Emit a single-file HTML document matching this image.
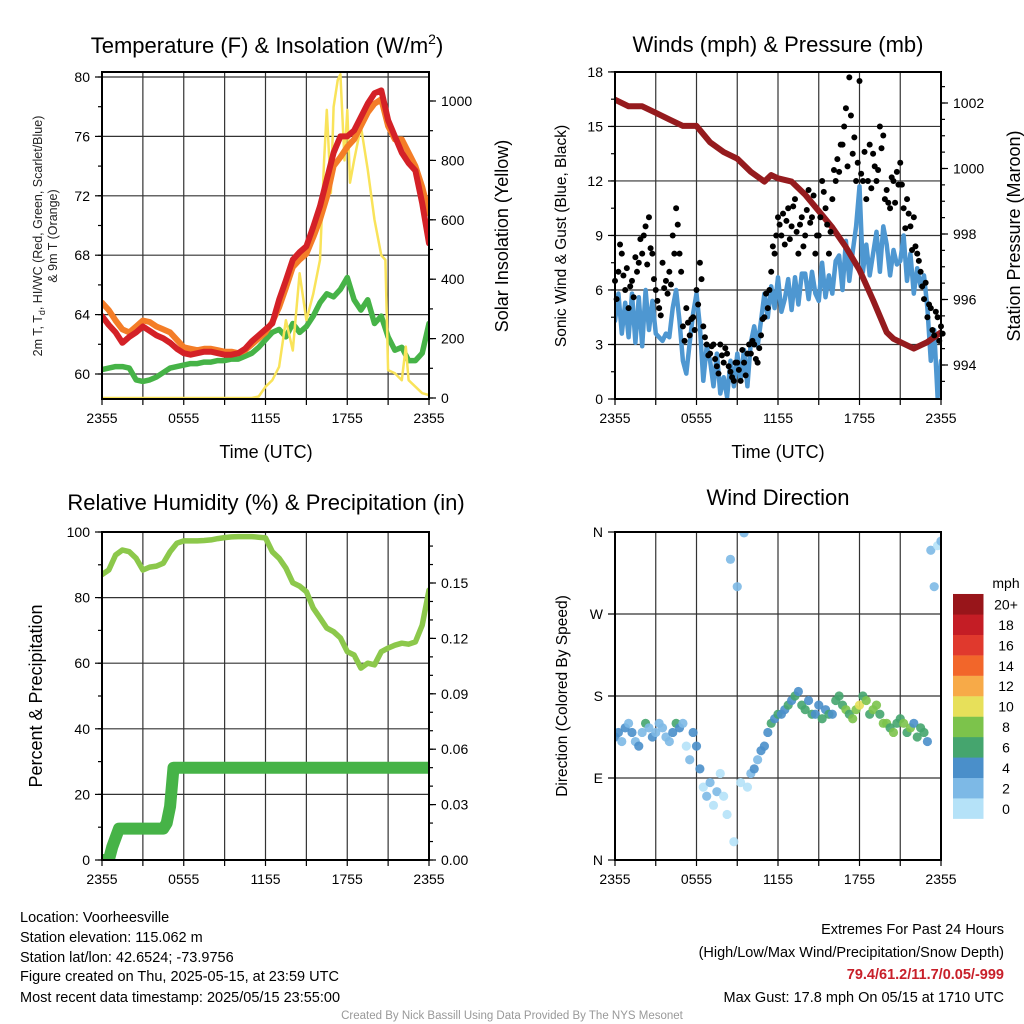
<!DOCTYPE html>
<html><head><meta charset="utf-8"><style>
html,body{margin:0;padding:0;background:#fff;}
svg{display:block;font-family:"Liberation Sans",Arial,sans-serif;}
</style></head><body>
<svg id="c" width="1024" height="1024" viewBox="0 0 1024 1024" xmlns="http://www.w3.org/2000/svg">
<defs>
<clipPath id="cp1"><rect x="102" y="72" width="327" height="327"/></clipPath>
<clipPath id="cp2"><rect x="615" y="72" width="326" height="327"/></clipPath>
<clipPath id="cp3"><rect x="102" y="532" width="327" height="328"/></clipPath>
<clipPath id="cp4"><rect x="615" y="532" width="326" height="328"/></clipPath>
</defs>
<g id="grids"></g>
<g id="series"></g>
<g id="axes"></g>
<text x="267" y="53" font-size="22" text-anchor="middle">Temperature (F) &amp; Insolation (W/m<tspan dy="-9" font-size="14">2</tspan><tspan dy="9">)</tspan></text>
<text x="778" y="52" font-size="22" text-anchor="middle">Winds (mph) &amp; Pressure (mb)</text>
<text x="266" y="510" font-size="22" text-anchor="middle">Relative Humidity (%) &amp; Precipitation (in)</text>
<text x="778" y="505" font-size="22" text-anchor="middle">Wind Direction</text>
<text x="266" y="458" font-size="18" text-anchor="middle">Time (UTC)</text>
<text x="778" y="458" font-size="18" text-anchor="middle">Time (UTC)</text>
<text transform="translate(42,236) rotate(-90)" font-size="12.5" text-anchor="middle" fill="#222">2m T, T<tspan dy="3" font-size="9">d</tspan><tspan dy="-3">, HI/WC (Red, Green, Scarlet/Blue)</tspan></text>
<text transform="translate(57,236) rotate(-90)" font-size="12.5" text-anchor="middle" fill="#222">&amp; 9m T (Orange)</text>
<text transform="translate(508,236) rotate(-90)" font-size="18" text-anchor="middle">Solar Insolation (Yellow)</text>
<text transform="translate(566,236) rotate(-90)" font-size="15.5" text-anchor="middle">Sonic Wind &amp; Gust (Blue, Black)</text>
<text transform="translate(1020,236) rotate(-90)" font-size="18" text-anchor="middle">Station Pressure (Maroon)</text>
<text transform="translate(42,696) rotate(-90)" font-size="18" text-anchor="middle">Percent &amp; Precipitation</text>
<text transform="translate(567,696) rotate(-90)" font-size="15.5" text-anchor="middle">Direction (Colored By Speed)</text>
<g font-size="14.5">
<text x="20" y="922">Location: Voorheesville</text>
<text x="20" y="942">Station elevation: 115.062 m</text>
<text x="20" y="962">Station lat/lon: 42.6524; -73.9756</text>
<text x="20" y="981">Figure created on Thu, 2025-05-15, at 23:59 UTC</text>
<text x="20" y="1002">Most recent data timestamp: 2025/05/15 23:55:00</text>
</g>
<g font-size="14.5" text-anchor="end">
<text x="1004" y="934">Extremes For Past 24 Hours</text>
<text x="1004" y="957">(High/Low/Max Wind/Precipitation/Snow Depth)</text>
<text x="1004" y="979" fill="#c8202a" font-weight="bold">79.4/61.2/11.7/0.05/-999</text>
<text x="1004" y="1002">Max Gust: 17.8 mph On 05/15 at 1710 UTC</text>
</g>
<text x="512" y="1019" font-size="11.5" text-anchor="middle" fill="#999">Created By Nick Bassill Using Data Provided By The NYS Mesonet</text>
<g id="cbar"></g>
</svg>
<script>
const tempRed = [63.9,63.3,62.8,62.1,62.5,62.8,63.2,62.9,62.6,62.4,62.1,61.7,61.4,61.3,61.4,61.5,61.5,61.4,61.3,61.3,61.4,61.7,62.2,62.6,63.0,63.4,65.0,66.3,67.7,68.2,68.6,69.9,71.3,73.1,74.9,76.0,76.0,76.4,77.3,78.2,78.9,79.1,77.1,76.0,74.9,74.2,73.7,71.5,68.8];
const temp9m = [64.8,64.3,63.6,63.0,62.8,63.2,63.6,63.5,63.2,63.0,62.8,62.3,61.8,61.7,61.6,61.7,61.7,61.6,61.5,61.5,61.4,61.6,62.0,62.4,62.8,63.5,64.5,65.8,67.2,67.7,68.1,69.2,70.4,71.9,74.0,74.6,75.3,75.8,76.7,77.6,78.2,78.5,76.7,75.8,75.8,74.9,74.0,72.6,70.8];
const dewGreen = [60.3,60.4,60.5,60.5,60.4,59.6,59.5,59.6,59.8,60.1,60.4,60.5,60.6,60.7,60.7,60.8,60.8,60.9,60.9,61.0,61.0,61.2,61.4,61.8,62.3,62.8,63.0,62.5,63.4,62.8,63.2,63.9,64.8,65.4,65.2,65.7,66.5,65.0,64.3,65.0,63.4,63.9,62.5,61.6,61.8,60.9,60.9,61.4,63.4];
const solarHours = [0,11,11.5,12,12.5,13,13.5,14,14.5,15,15.5,16,16.3,16.5,16.8,17,17.3,17.5,17.8,18,18.2,18.5,19,19.5,20,20.5,20.8,21,21.5,22,22.3,22.5,23,23.5,24];
const solarValues = [0,0,5,38,60,105,262,160,420,262,350,465,800,970,690,980,1070,1090,800,970,725,800,915,770,600,480,465,94,83,60,173,60,38,16,10];
const sonicWind = [4.3,5.8,3.6,5.3,3.4,5.8,3.1,5.6,2.9,6.0,3.8,5.4,3.6,3.4,3.2,3.6,3.4,5.0,6.0,4.3,2.1,1.4,3.1,4.7,5.8,4.0,1.0,2.9,2.1,0.7,2.5,0.3,1.2,0.1,2.1,0.7,2.5,1.0,2.7,0.7,3.1,4.0,2.9,4.3,5.8,4.5,6.2,5.0,6.7,4.8,5.5,6.6,4.9,6.7,5.2,6.9,6.9,5.5,7.0,5.8,5.4,7.5,5.6,6.8,5.8,7.6,7.9,6.0,8.7,6.5,8.1,9.5,11.7,7.0,8.5,6.8,8.0,9.2,7.0,9.5,8.5,6.8,8.2,7.4,7.6,9.0,6.5,8.0,5.8,7.2,6.2,6.8,5.0,2.1,3.8,0.1,2.1];
const gust = [6.5,7,8,6,5,6.5,7.8,7.5,8,9.5,10,8,6,5,7.5,6.5,7,9,10.5,8,4,5,3.5,4.5,6,7.5,4,3,2.5,3,1.8,3,2,2.5,1.5,1,2,1,2,2.5,2.5,3,2,3.5,4.5,5,7,8,10,9,8.5,10.5,9.5,11,8,10,9,11.5,10,8,9,12,10.5,8,11,12,12.5,14,16,17.7,13.5,12,17.5,12,11,14,13.5,12,15,14.5,11.5,10.5,12,12.5,13,10.5,11,9.5,10,8,7,5.5,4.5,5,3.5,4.5,4];
const gust2 = [5.5,8.5,6.8,7.2,6.2,5.6,7,8.8,9,7.4,8.3,6.6,5.4,4.6,6.1,5.8,6.3,8,9.6,7,3.2,4.2,4.4,3.8,5.2,6.6,3.4,2.4,2.9,2.2,1.4,2.4,2.8,1.8,1.2,2,1.6,2.7,1.3,3,3.2,2.2,2.8,4.4,5.8,6,8.4,9,9.6,10.2,9.8,8.8,10.6,9.2,9.6,8.4,10.4,9.7,11.2,9,10,11.4,9.6,9.2,12.6,13.2,14,15,12.8,15.6,14.4,13,12.4,13.6,12,11.6,12.8,12.6,13.8,11,10.8,12.2,10.8,11.8,11.8,9.4,10.2,8.2,8.4,7.6,6.2,6.4,5.2,3.8,4.8,3.2,3.6];
const pressHours = [0,1,2,2.5,3,4,5,6,7,8,9,10,11,11.5,12,13,14,15,16,17,18,19,20,20.5,21,22,22.5,23,24];
const pressValues = [1002.1,1001.9,1001.9,1001.8,1001.7,1001.5,1001.3,1001.3,1000.8,1000.5,1000.3,999.9,999.6,999.8,999.7,999.6,999.2,998.7,998.2,997.6,996.9,995.98,995.0,994.8,994.7,994.5,994.6,994.7,995.0];
const windDir = [135,140,130,145,150,140,130,125,140,150,145,135,140,150,145,135,130,140,150,145,150,125,110,140,125,100,80,70,85,60,75,95,70,50,330,20,300,85,359,80,95,100,110,120,125,140,150,155,160,160,165,170,175,180,185,170,165,175,160,160,170,155,165,160,160,175,180,170,165,160,155,165,170,180,175,160,165,170,160,150,150,145,140,150,155,150,140,145,150,135,145,140,130,340,300,345,350];
const rh = [87,88.4,93,94.5,94,92,88.4,89.3,89.6,90.5,94,96.6,97.3,97.3,97.3,97.4,97.6,98,98.3,98.5,98.6,98.6,98.6,98.4,98.2,94,92,89,84.5,83.5,81.8,76.8,73.8,70.7,69.6,67.7,63.5,62.5,58.5,60,59.5,63.5,64.6,65.5,66.1,65.8,66.5,71.6,82.3];
const precip = [0,0,0,0.007,0.012,0.017,0.017,0.017,0.017,0.017,0.017,0.017,0.017,0.017,0.017,0.017,0.017,0.017,0.017,0.02,0.029,0.05,0.05,0.05,0.05,0.05,0.05,0.05,0.05,0.05,0.05,0.05,0.05,0.05,0.05,0.05,0.05,0.05,0.05,0.05,0.05,0.05,0.05,0.05,0.05,0.05,0.05,0.05,0.05,0.05,0.05,0.05,0.05,0.05,0.05,0.05,0.05,0.05,0.05,0.05,0.05,0.05,0.05,0.05,0.05,0.05,0.05,0.05,0.05,0.05,0.05,0.05,0.05,0.05,0.05,0.05,0.05,0.05,0.05,0.05,0.05,0.05,0.05,0.05,0.05,0.05,0.05,0.05,0.05,0.05,0.05,0.05,0.05,0.05,0.05,0.05,0.05];
const timeLabels = ["2355","0555","1155","1755","2355"];
const tempTicks = [60,64,68,72,76,80];
const solarTicks = [0,200,400,600,800,1000];
const windTicks = [0,3,6,9,12,15,18];
const pressTicks = [994,996,998,1000,1002];
const rhTicks = [0,20,40,60,80,100];
const precipTicks = ["0.00","0.03","0.06","0.09","0.12","0.15"];
const dirTicks = ["N","E","S","W","N"];
const cbarLabels = ["0","2","4","6","8","10","12","14","16","18","20+"];
const cbarColors = ["#b5e2f8","#7db9e6","#4a8fca","#45a56e","#7cc34b","#e7e05a","#f7aa48","#f2662a","#e0392d","#c41d25","#98151a"];

const NS="http://www.w3.org/2000/svg";
const P1={x0:102,x1:429,y0:72,y1:399}, P2={x0:615,x1:941,y0:72,y1:399}, P3={x0:102,x1:429,y0:532,y1:860}, P4={x0:615,x1:941,y0:532,y1:860};
const xL = h => 102 + h*(327/24);
const xR = h => 615 + h*(326/24);
const yTemp = t => 374 - (t-60)*14.85;
const ySolar = v => 398 - v*0.297;
const yWind = m => 399 - m*18.17;
const yPress = p => 365 - (p-994)*32.75;
const yRH = r => 860 - r*3.28;
const yPrecip = p => 860 - p*(55.4/0.03);
const yDir = d => 860 - d*(328/360);
function speedColor(s){let i=Math.min(10,Math.max(0,Math.floor(s/2)));return cbarColors[i];}

function mk(tag,attrs,parent){const e=document.createElementNS(NS,tag);for(const k in attrs)e.setAttribute(k,attrs[k]);parent.appendChild(e);return e;}
const G=document.getElementById('grids'), S=document.getElementById('series'), A=document.getElementById('axes'), CB=document.getElementById('cbar');
function pathFrom(xs,ys){return xs.map((x,i)=>(i?'L':'M')+x.toFixed(1)+','+ys[i].toFixed(1)).join('');}

function grid(P,xf,hs,yvals,yf,name){
  hs.forEach(h=>{const l=mk('line',{x1:xf(h),x2:xf(h),y1:P.y0,y2:P.y1,stroke:'#333','stroke-width':1.2},G);
    
    });
  yvals.forEach(v=>{const l=mk('line',{x1:P.x0,x2:P.x1,y1:yf(v),y2:yf(v),stroke:'#333','stroke-width':1.2},G);
    
    });
}
const gh=[3,6,9,12,15,18,21];
grid(P1,xL,gh,tempTicks,yTemp,'temperature');
grid(P2,xR,gh,windTicks,yWind,'wind');
grid(P3,xL,gh,rhTicks,yRH,'humidity');
grid(P4,xR,gh,[90,180,270],yDir,'direction');

function line(xs,ys,color,w,clip,name){const p=mk('path',{d:pathFrom(xs,ys),fill:'none',stroke:color,'stroke-width':w,'stroke-linejoin':'round','stroke-linecap':'round','clip-path':'url(#'+clip+')'},S);
  
  
  return p;}
const hh=tempRed.map((_,i)=>i*0.5);
line(hh.map(xL),dewGreen.map(yTemp),'#46b347',5.5,'cp1','dewpoint-line');
line(solarHours.map(xL),solarValues.map(ySolar),'#f9e35a',2.5,'cp1','solar-insolation-line');
line(hh.map(xL),temp9m.map(yTemp),'#f47d27',6,'cp1','temp-9m-line');
line(hh.map(xL),tempRed.map(yTemp),'#d42127',6,'cp1','temp-2m-line');

const qh=sonicWind.map((_,i)=>i*0.25);
line(qh.map(xR),sonicWind.map(yWind),'#4e97d1',4.5,'cp2','sonic-wind-line');
line(pressHours.map(xR),pressValues.map(yPress),'#951b1e',6,'cp2','pressure-line');
gust.forEach((g,i)=>{const c=mk('circle',{cx:xR(i*0.25),cy:yWind(g),r:3,fill:'#000'},S);
  
  });
gust2.forEach((g,i)=>{const c=mk('circle',{cx:xR(i*0.25+0.12),cy:yWind(g),r:3,fill:'#000'},S);
  
  });

line(hh.map(xL),rh.map(yRH),'#8cc84b',5.5,'cp3','relative-humidity-line');
const pp=precip.map((_,i)=>i*0.25);
line(pp.map(xL),precip.map(yPrecip),'#46b347',12,'cp3','precipitation-line');

windDir.forEach((d,i)=>{const c=mk('circle',{cx:xR(i*0.25),cy:yDir(d),r:4.6,fill:speedColor(sonicWind[i]),'fill-opacity':0.9,'clip-path':'url(#cp4)'},S);
  
  });

function frame(P,name){const r=mk('rect',{x:P.x0,y:P.y0,width:P.x1-P.x0,height:P.y1-P.y0,fill:'none',stroke:'#000','stroke-width':2},A);
  
  }
function txt(x,y,s,anchor,size,name){const t=mk('text',{x:x,y:y,'text-anchor':anchor,'font-size':size},A);t.textContent=s;
  
  }
function tick(x1,y1,x2,y2){mk('line',{x1:x1,y1:y1,x2:x2,y2:y2,stroke:'#000','stroke-width':1.2},A);}
[[P1,'temperature'],[P2,'wind'],[P3,'humidity'],[P4,'direction']].forEach(([P,n])=>frame(P,n));
function xAxis(P,xf,name){for(let h=0;h<=24;h+=3){tick(xf(h),P.y1,xf(h),P.y1+6);}
  timeLabels.forEach((s,i)=>txt(xf(i*6),P.y1+24,s,'middle',14,name+'-x-tick-label'));}
xAxis(P1,xL,'temperature');xAxis(P2,xR,'wind');xAxis(P3,xL,'humidity');xAxis(P4,xR,'direction');
function leftAxis(P,vals,yf,labels,minorStep,name,lo,hi){vals.forEach((v,i)=>{tick(P.x0-7,yf(v),P.x0,yf(v));txt(P.x0-12,yf(v)+5,labels?labels[i]:String(v),'end',14,name+'-y-tick-label');});
  if(minorStep){for(let v=lo;v<=hi+1e-9;v+=minorStep)tick(P.x0-4,yf(v),P.x0,yf(v));}}
function rightAxis(P,vals,yf,labels,minorStep,name,lo,hi){vals.forEach((v,i)=>{tick(P.x1,yf(v),P.x1+7,yf(v));txt(P.x1+12,yf(v)+5,labels?labels[i]:String(v),'start',14,name+'-right-tick-label');});
  if(minorStep){for(let v=lo;v<=hi+1e-9;v+=minorStep)tick(P.x1,yf(v),P.x1+4,yf(v));}}
leftAxis(P1,tempTicks,yTemp,null,2,'temperature',60,80);
rightAxis(P1,solarTicks,ySolar,null,100,'solar',0,1000);
leftAxis(P2,windTicks,yWind,null,1.5,'wind',0,18);
rightAxis(P2,pressTicks,yPress,null,0.5,'pressure',993.5,1002.5);
leftAxis(P3,rhTicks,yRH,null,10,'humidity',0,100);
rightAxis(P3,[0,0.03,0.06,0.09,0.12,0.15],yPrecip,precipTicks,0.01,'precip',0,0.17);
leftAxis(P4,[0,90,180,270,360],yDir,dirTicks,0,'direction');

cbarColors.forEach((c,i)=>{const y=818.7-(i+1)*20.43;
  const r=mk('rect',{x:953,y:y,width:30.5,height:20.6,fill:c},CB);
  
  
  const t=mk('text',{x:1006,y:y+15.5,'text-anchor':'middle','font-size':14},CB);t.textContent=cbarLabels[i];
  
  });
const mt=mk('text',{x:1006,y:588,'text-anchor':'middle','font-size':14},CB);mt.textContent='mph';


</script>
</body></html>
